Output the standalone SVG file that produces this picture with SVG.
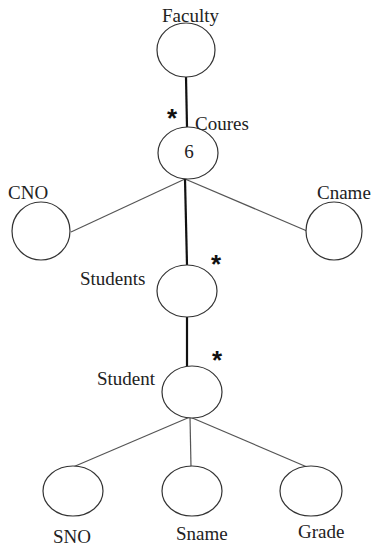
<svg xmlns="http://www.w3.org/2000/svg" width="371" height="547" viewBox="0 0 371 547">
<style>
.n{fill:#fff;stroke:#333;stroke-width:1.2}
.t{font-family:"Liberation Serif","Times New Roman",serif;font-size:19px;fill:#222}
.s{font-family:"Liberation Sans",Arial,sans-serif;font-size:26px;font-weight:bold;fill:#111;text-anchor:middle}
.thick{stroke:#111;stroke-width:2.2;fill:none}
.thin{stroke:#555;stroke-width:1.2;fill:none}
</style>
<rect width="371" height="547" fill="#fff"/>
<g id="connectors">
<line class="thick" x1="186" y1="77" x2="187" y2="127"/>
<line class="thin" x1="185" y1="179" x2="71" y2="232"/>
<line class="thin" x1="185" y1="179" x2="307" y2="231"/>
<line class="thick" x1="185" y1="179" x2="187" y2="265"/>
<line class="thick" x1="187" y1="317" x2="187" y2="366"/>
<line class="thin" x1="190" y1="417" x2="73" y2="467"/>
<line class="thin" x1="190" y1="417" x2="191" y2="467"/>
<line class="thin" x1="190" y1="417" x2="307" y2="467"/>
<text class="s" x="172" y="127">*</text>
<text class="s" x="216" y="273">*</text>
<text class="s" x="217" y="369">*</text>
</g>
<g id="faculty"><ellipse class="n" cx="186" cy="50" rx="29" ry="27"/><text class="t" x="162" y="22">Faculty</text></g>
<g id="coures"><ellipse class="n" cx="188" cy="153" rx="30" ry="26"/><text class="t" x="195" y="130">Coures</text><text class="t" x="189" y="158" text-anchor="middle">6</text></g>
<g id="cno"><ellipse class="n" cx="41" cy="231" rx="29" ry="29"/><text class="t" x="8" y="199">CNO</text></g>
<g id="cname"><ellipse class="n" cx="334" cy="231" rx="28" ry="29"/><text class="t" x="317" y="199">Cname</text></g>
<g id="students"><ellipse class="n" cx="187" cy="291" rx="30" ry="26"/><text class="t" x="80" y="285">Students</text></g>
<g id="student"><ellipse class="n" cx="192" cy="392" rx="30" ry="26"/><text class="t" x="97" y="385">Student</text></g>
<g id="sno"><ellipse class="n" cx="73" cy="491" rx="30" ry="25"/><text class="t" x="53" y="543">SNO</text></g>
<g id="sname"><ellipse class="n" cx="192" cy="491" rx="30" ry="25"/><text class="t" x="176" y="540">Sname</text></g>
<g id="grade"><ellipse class="n" cx="311" cy="491" rx="31" ry="25"/><text class="t" x="298" y="538">Grade</text></g>
</svg>
